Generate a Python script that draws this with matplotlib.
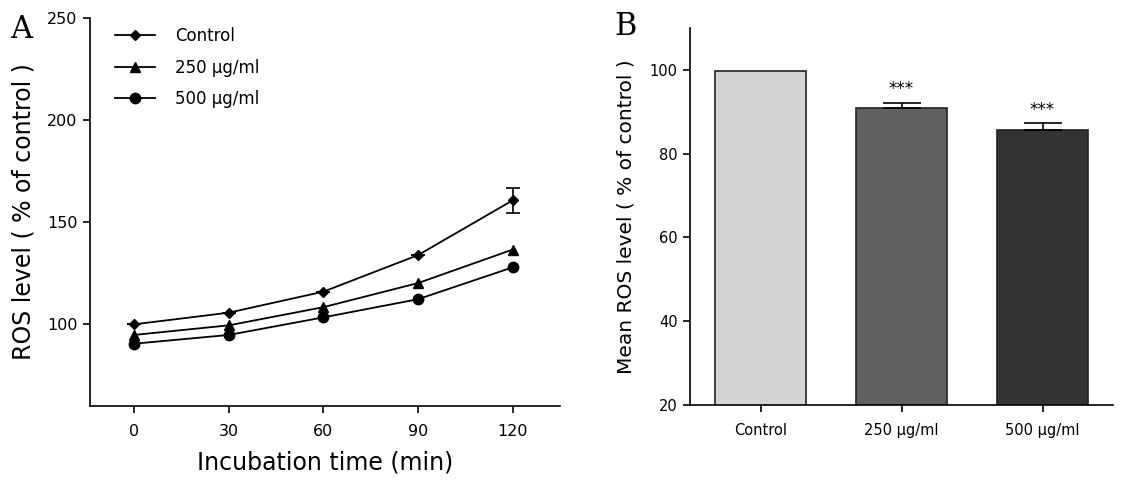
import matplotlib
matplotlib.use("Agg")
import matplotlib.pyplot as plt
import numpy as np

plt.rcParams['font.family'] = ['DejaVu Sans']

# Panel A data
times = [0, 30, 60, 90, 120]
control = [100.0, 105.7, 116.0, 133.9, 160.7]
control_err = [0, 0, 0, 0, 6.0]
c250 = [94.8, 99.5, 108.4, 120.2, 136.6]
c500 = [90.5, 94.8, 103.4, 112.3, 127.9]
series_labels = ["Control", "250 μg/ml", "500 μg/ml"]

# Panel B data
bar_cats = ["Control", "250 μg/ml", "500 μg/ml"]
bar_vals = [99.8, 90.8, 85.7]
bar_errs = [0.0, 1.4, 1.6]
bar_colors = ["#d4d4d4", "#606060", "#333333"]
bar_sig = ["", "***", "***"]

fig = plt.figure(figsize=(11.25, 4.8), dpi=100)

# ---------- Panel A ----------
axA = fig.add_axes([90/1125, 1-406/480, (560-90)/1125, (406-18)/480])
lw = 1.3
h1, = axA.plot(times, control, color='black', lw=lw, marker='D', ms=5, label=series_labels[0])
axA.errorbar(times, control, yerr=control_err, fmt='none', ecolor='black',
             elinewidth=1.2, capsize=5, capthick=1.2)
h2, = axA.plot(times, c250, color='black', lw=lw, marker='^', ms=7, label=series_labels[1])
h3, = axA.plot(times, c500, color='black', lw=lw, marker='o', ms=7.5, label=series_labels[2])
axA.set_xlim(-14, 135)
axA.set_ylim(60, 250)
axA.set_xticks(times)
axA.set_yticks([100, 150, 200, 250])
for s in ['top', 'right']:
    axA.spines[s].set_visible(False)
for s in ['left', 'bottom']:
    axA.spines[s].set_linewidth(1.2)
axA.tick_params(axis='both', direction='out', length=5, width=1.2, labelsize=11.5, pad=4)
axA.tick_params(axis='x', pad=8)
axA.set_ylabel("ROS level ( % of control )", fontsize=17, labelpad=8)
axA.set_xlabel("Incubation time (min)", fontsize=17, labelpad=8)
leg = axA.legend(handles=[h1, h2, h3], loc='upper left', bbox_to_anchor=(0.022, 1.015),
                 frameon=False, fontsize=12, handlelength=2.4, handletextpad=1.2,
                 labelspacing=0.8)
fig.text(10/1125, 1-38/480, "A", fontsize=22, family='DejaVu Serif')

# ---------- Panel B ----------
axB = fig.add_axes([690/1125, 1-405/480, (1113-690)/1125, (405-28)/480])
x = np.arange(len(bar_cats))
axB.bar(x, bar_vals, width=0.65, bottom=0, color=bar_colors, edgecolor='#222222',
        linewidth=1.2, zorder=2)
axB.errorbar(x[1:], bar_vals[1:], yerr=[[0]*2, bar_errs[1:]], fmt='none', ecolor='black',
             elinewidth=1.2, capsize=14, capthick=1.2, zorder=3)
for xi, v, e, s in zip(x, bar_vals, bar_errs, bar_sig):
    if s:
        axB.text(xi, v + e + 1.0, s, ha='center', va='bottom', fontsize=12)
axB.set_xlim(-0.5, 2.5)
axB.set_ylim(20, 110)
axB.set_yticks([20, 40, 60, 80, 100])
axB.set_xticks(x)
axB.set_xticklabels(bar_cats)
for s in ['top', 'right']:
    axB.spines[s].set_visible(False)
for s in ['left', 'bottom']:
    axB.spines[s].set_linewidth(1.2)
axB.tick_params(axis='both', direction='out', length=5, width=1.2, labelsize=10.5, pad=4)
axB.tick_params(axis='x', pad=8)
axB.set_ylabel("Mean ROS level ( % of control )", fontsize=14.5, labelpad=10)
fig.text(614/1125, 1-35/480, "B", fontsize=22, family='DejaVu Serif')

fig.savefig("out.png", dpi=100)
